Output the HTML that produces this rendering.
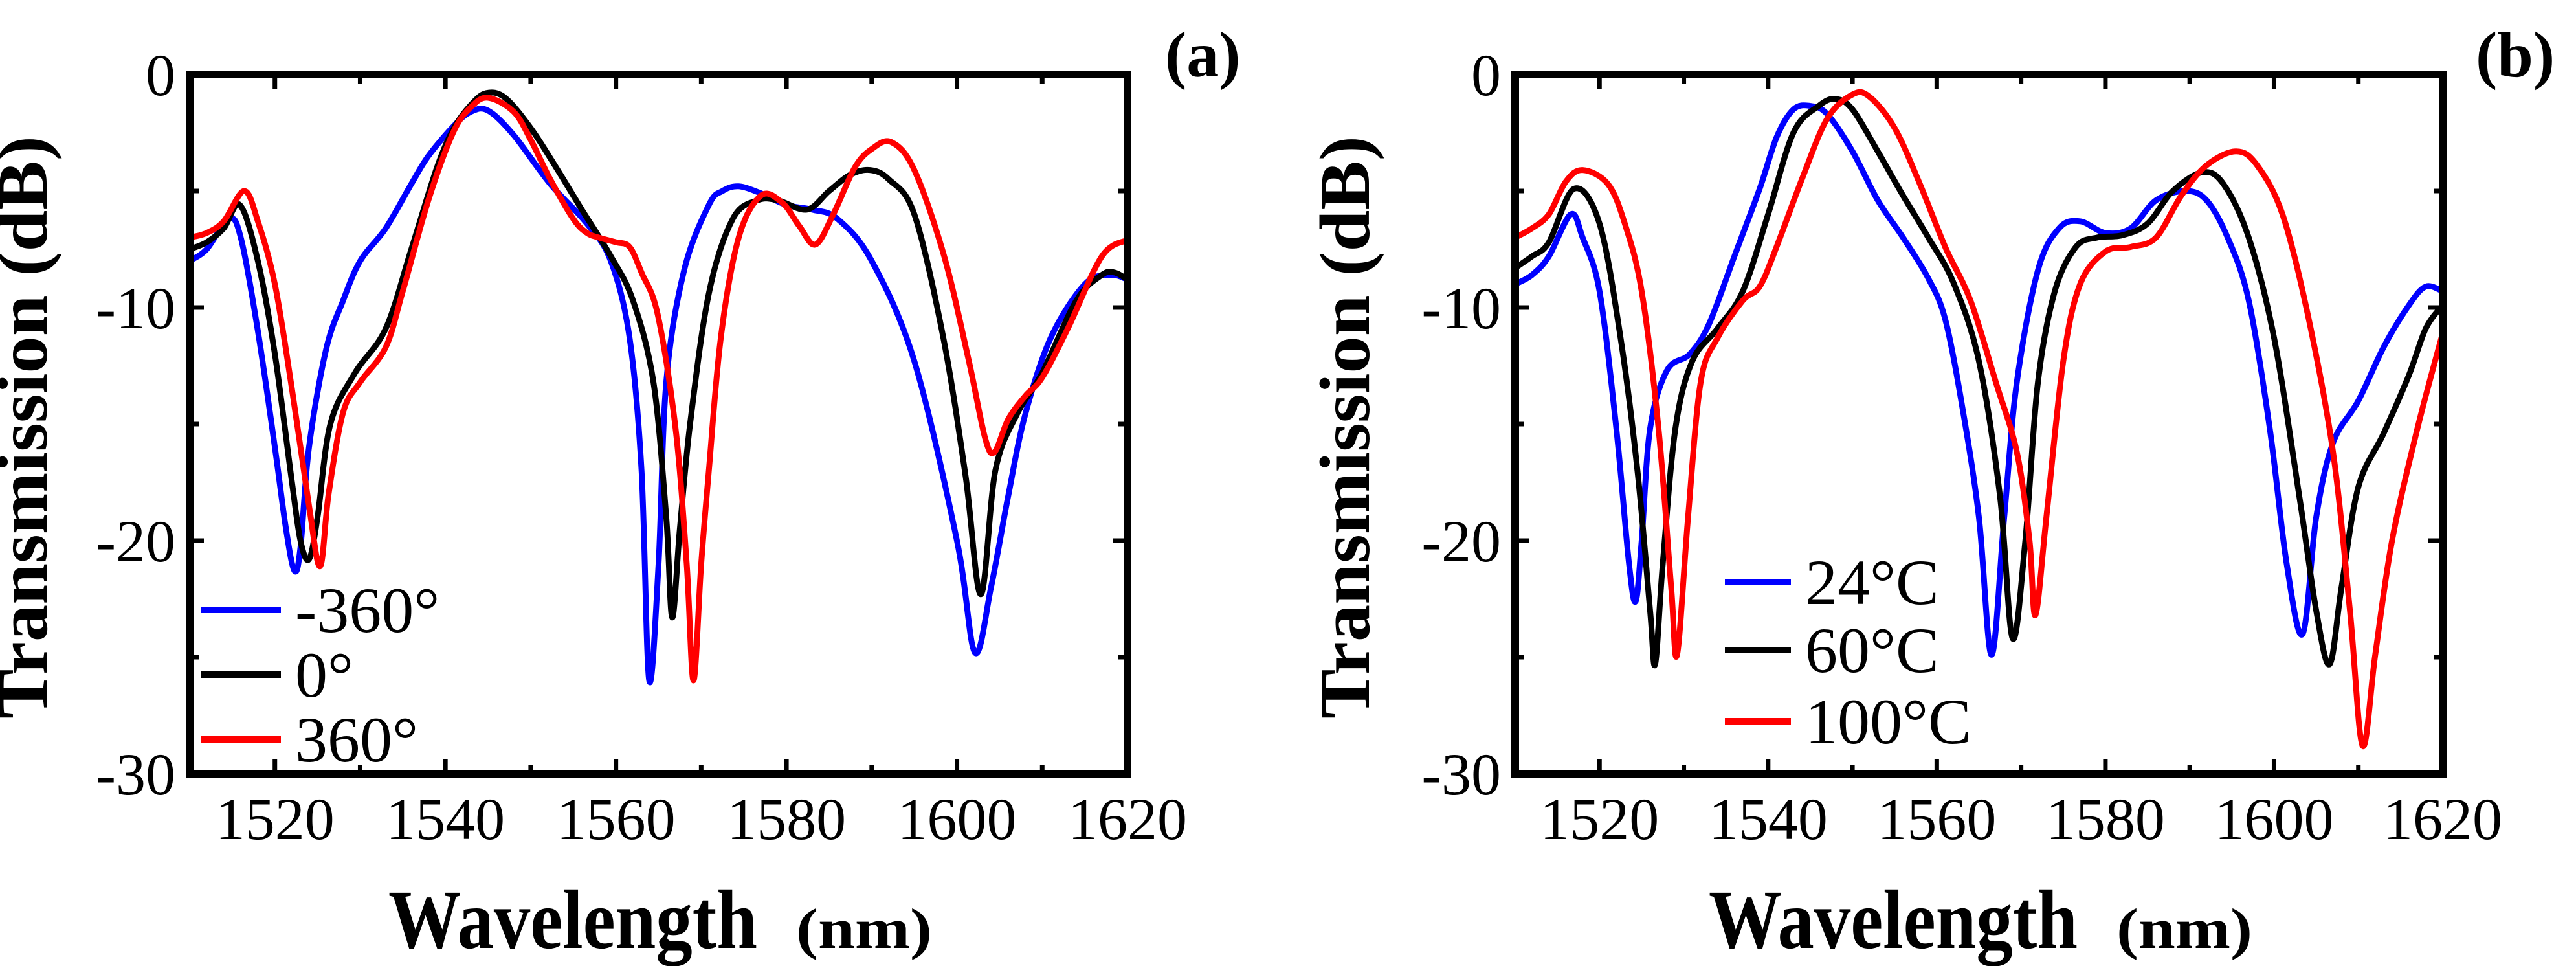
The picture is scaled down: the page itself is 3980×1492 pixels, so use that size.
<!DOCTYPE html>
<html><head><meta charset="utf-8"><style>
html,body{margin:0;padding:0;background:#fff;}
svg{display:block;}
text{font-family:"Liberation Serif",serif;fill:#000;}
</style></head><body>
<svg id="fig" width="3980" height="1492" viewBox="0 0 3980 1492" xmlns="http://www.w3.org/2000/svg"></svg>
<script>
// ---- Panel (a) data: wavelength (nm) / transmission (dB) ----
const aBlueX=[1510,1512,1514.6,1516,1518,1520,1521.3,1522.3,1523,1524,1526,1528,1530,1533,1536,1538,1541,1543,1545,1548,1552.3,1556.6,1559.4,1561.6,1563,1563.9,1565,1565.9,1568,1570.9,1572.5,1574.4,1577,1580,1583,1586,1590,1595,1600,1602.1,1604,1606,1608,1611,1615,1618,1620];
const aBlueY=[-8,-7.5,-6.2,-7,-11,-16,-19.5,-21.3,-20.3,-16,-11.8,-9.7,-8,-6.6,-4.7,-3.5,-2.2,-1.6,-1.55,-2.6,-4.7,-6.4,-8,-11.3,-17,-26,-21,-13.2,-8.4,-5.6,-5,-4.8,-5.1,-5.6,-5.8,-6.2,-8,-12.3,-20,-24.8,-22,-18.1,-14.6,-11.3,-9,-8.6,-8.8];
const aBlackX=[1510,1512,1514,1515.9,1518,1520,1522,1523,1524,1525,1526.5,1529.4,1533,1536,1539,1541,1543,1544.8,1547,1550,1553,1556,1559.4,1562,1564.4,1565.9,1566.6,1567.5,1568.7,1570.9,1573.7,1576.6,1579,1582.4,1585,1587.5,1589.8,1592,1595,1598.4,1601,1602.8,1604.5,1607,1610,1614,1617,1618.5,1620];
const aBlackY=[-7.5,-7.2,-6.6,-5.6,-8,-12,-17.5,-20,-20.8,-19,-15,-12.8,-10.9,-7.5,-4,-2.3,-1.3,-0.8,-1,-2.3,-4,-5.8,-7.8,-9.7,-13.2,-19,-23.3,-19.5,-15,-9.4,-6.2,-5.4,-5.4,-5.8,-5,-4.3,-4.1,-4.5,-6,-11.3,-17.2,-22.3,-17,-14.6,-12.8,-9.7,-8.6,-8.5,-8.8];
const aRedX=[1510,1512,1514,1516.4,1518,1520,1522,1524,1525.3,1526.3,1528,1530,1533,1535,1538,1540.9,1543,1545,1548,1550,1552.3,1555,1556.6,1558,1560,1561.6,1563,1564.9,1567,1568.3,1569.1,1570,1570.9,1572.3,1574.4,1577,1579.5,1581.5,1583.4,1585.5,1588,1590,1592.3,1595,1598.5,1601.4,1603.3,1604.4,1606,1608,1610,1613,1617,1620];
const aRedY=[-7,-6.8,-6.3,-5,-6.3,-9,-13.5,-18.5,-21.1,-18,-14.5,-13.2,-11.7,-9.3,-5.4,-2.5,-1.4,-1,-1.6,-2.8,-4.5,-6.2,-6.8,-7,-7.2,-7.4,-8.5,-10.3,-15.2,-21,-26,-21,-17,-11.3,-7,-5.2,-5.5,-6.5,-7.3,-6,-4,-3.2,-2.9,-4.1,-7.8,-12.3,-15.6,-16.2,-14.8,-13.8,-13,-10.9,-7.8,-7.1];
// ---- Panel (b) data ----
const bBlueX=[1510,1512,1514,1516.6,1518,1520,1522,1523.5,1524.3,1525,1526,1528,1530.7,1533,1536,1539,1541,1543,1545,1547,1550,1553,1556,1559,1561,1563,1565,1566.5,1568,1569.5,1572,1574.5,1577,1580,1583,1586,1589.5,1592,1594.5,1597,1599.5,1601.5,1603.4,1605,1607,1610,1613,1616,1618,1620];
const bBlueY=[-9,-8.6,-7.8,-6,-7,-9.3,-15.2,-21,-22.6,-20,-15.2,-12.7,-12,-10.7,-7.8,-4.9,-2.7,-1.5,-1.35,-1.7,-3.3,-5.4,-7,-8.75,-10.5,-14.2,-19,-24.9,-19,-13.2,-8.4,-6.6,-6.3,-6.8,-6.6,-5.4,-5,-5.4,-7,-9.7,-15.2,-21,-24,-19,-15.8,-14,-11.7,-9.9,-9.1,-9.3];
const bBlackX=[1510,1512,1514,1517,1520,1522.5,1524.5,1526,1526.6,1527.5,1529,1531,1534,1537,1540,1543,1546,1548,1550,1553,1556,1559,1562,1565,1567.5,1569,1570.5,1572,1574,1576.5,1579,1582,1585,1588,1591.5,1594,1597,1600,1603,1605,1606.6,1608,1610,1613,1616,1618,1620];
const bBlackY=[-8.3,-7.8,-7.2,-4.9,-6.4,-11.3,-17,-23,-25.3,-21,-15.2,-12.3,-10.9,-9.3,-6,-2.5,-1.35,-1.05,-1.5,-3.3,-5.2,-7,-8.95,-12.3,-18.1,-24.2,-20,-13.2,-9.3,-7.4,-7,-6.9,-6.4,-5,-4.2,-4.7,-7,-11.3,-18.1,-23,-25.3,-22,-17.7,-15.4,-12.9,-10.9,-9.9];
const bRedX=[1510,1512,1514,1516,1518,1521,1523,1525,1527,1528.5,1529.2,1530.5,1532,1534,1537,1539,1541,1544,1547,1550,1552,1555,1558,1561,1564,1567,1569.5,1571,1571.7,1573,1575,1577,1580,1583,1586,1589,1592,1595.5,1598,1601,1604,1607,1609,1610.5,1612,1614,1617,1620];
const bRedY=[-7,-6.6,-6,-4.6,-4.1,-4.7,-6.4,-9.3,-15.2,-22,-24.9,-19,-13.2,-11.3,-9.7,-9.1,-7.4,-4.5,-1.9,-0.86,-0.95,-2.3,-4.7,-7.4,-9.7,-13.2,-16.2,-20,-23.2,-19,-12.3,-9,-7.6,-7.4,-7,-5.2,-3.9,-3.3,-3.9,-6,-10.3,-16.2,-23,-28.8,-24.9,-20,-15.2,-11.1];
const xTicks=[1520,1540,1560,1580,1600,1620];
const yTicks=[0,-10,-20,-30];
const legendA=["-360°","0°","360°"];
const legendB=["24°C","60°C","100°C"];

const NS="http://www.w3.org/2000/svg";
const svg=document.getElementById('fig');
function el(tag,attrs,parent,txt){const e=document.createElementNS(NS,tag);for(const k in attrs)e.setAttribute(k,attrs[k]);if(txt!==undefined)e.textContent=txt;(parent||svg).appendChild(e);return e;}
function smoothPath(pts){let d='M'+pts[0][0].toFixed(1)+','+pts[0][1].toFixed(1);for(let i=0;i<pts.length-1;i++){const p0=pts[Math.max(0,i-1)],p1=pts[i],p2=pts[i+1],p3=pts[Math.min(pts.length-1,i+2)];const c1=[p1[0]+(p2[0]-p0[0])/6,p1[1]+(p2[1]-p0[1])/6],c2=[p2[0]-(p3[0]-p1[0])/6,p2[1]-(p3[1]-p1[1])/6];d+=' C'+c1[0].toFixed(1)+','+c1[1].toFixed(1)+' '+c2[0].toFixed(1)+','+c2[1].toFixed(1)+' '+p2[0].toFixed(1)+','+p2[1].toFixed(1);}return d;}

function panel(cfg){
  const g=el('g',{});
  
  
  const L=cfg.left,R=cfg.right,T=115,B=1195;
  const sx=v=>L+(v-1510)/(1620-1510)*(R-L);
  const sy=v=>T+(0-v)/30*(B-T);
  const series=el('g',{},g);
  
  
  cfg.series.forEach(s=>{
    const pts=s.x.map((x,i)=>[sx(x),sy(s.y[i])]);
    const p=el('path',{d:smoothPath(pts),fill:'none',stroke:s.color,'stroke-width':9,'stroke-linejoin':'round'},series);
    
    
  });
  // ticks
  for(let v=1520;v<=1610;v+=10){
    const len=(v%20===0)?22:14;
    el('line',{x1:sx(v),x2:sx(v),y1:B,y2:B-len,stroke:'#000','stroke-width':7},g);
    el('line',{x1:sx(v),x2:sx(v),y1:T,y2:T+len,stroke:'#000','stroke-width':7},g);
  }
  for(let v=-5;v>-30;v-=5){
    const len=(v%10===0)?22:14;
    el('line',{x1:L,x2:L+len,y1:sy(v),y2:sy(v),stroke:'#000','stroke-width':7},g);
    el('line',{x1:R,x2:R-len,y1:sy(v),y2:sy(v),stroke:'#000','stroke-width':7},g);
  }
  const frame=el('rect',{x:L,y:T,width:R-L,height:B-T,fill:'none',stroke:'#000','stroke-width':12},g);
  
  
  xTicks.forEach(v=>{
    const t=el('text',{x:sx(v),y:1296,'font-size':92,'text-anchor':'middle'},g,String(v));
    
    
  });
  yTicks.forEach(v=>{
    const t=el('text',{x:L-22,y:sy(v)+32,'font-size':92,'text-anchor':'end'},g,String(v));
    
    
  });
  const yt=el('text',{x:0,y:0,'font-size':110,'font-weight':'bold','text-anchor':'middle',transform:`translate(${cfg.ytx},660) rotate(-90)`,textLength:900,lengthAdjust:'spacingAndGlyphs'},g,'Transmission (dB)');
  
  
  const xt=el('text',{x:cfg.xtx,y:1464,'font-size':130,'font-weight':'bold',textLength:570,lengthAdjust:'spacingAndGlyphs'},g,'Wavelength');
  
  
  const xu=el('text',{x:cfg.xtx+630,y:1464,'font-size':88,'font-weight':'bold',textLength:210,lengthAdjust:'spacingAndGlyphs'},g,'(nm)');
  
  
  const pl=el('text',{x:cfg.plx,y:118,'font-size':100,'font-weight':'bold'},g,cfg.label);
  
  
  cfg.legend.forEach((lab,i)=>{
    const lg=el('g',{},g);
    
    
    const y=cfg.legY[i];
    el('line',{x1:cfg.legX,x2:cfg.legX+cfg.legLen,y1:y,y2:y,stroke:cfg.series[i].color,'stroke-width':10},lg);
    el('text',{x:cfg.legX+cfg.legLen+22,y:y+34,'font-size':100},lg,lab);
  });
}
panel({name:'panel-a',left:293,right:1742,ytx:72,xtx:600,plx:1800,label:'(a)',
  series:[{x:aBlueX,y:aBlueY,color:'#0000ff',name:'series-minus360'},{x:aBlackX,y:aBlackY,color:'#000000',name:'series-0'},{x:aRedX,y:aRedY,color:'#ff0000',name:'series-360'}],
  legend:legendA,legX:311,legLen:123,legY:[942,1042,1142]});
panel({name:'panel-b',left:2341,right:3774,ytx:2115,xtx:2640,plx:3825,label:'(b)',
  series:[{x:bBlueX,y:bBlueY,color:'#0000ff',name:'series-24c'},{x:bBlackX,y:bBlackY,color:'#000000',name:'series-60c'},{x:bRedX,y:bRedY,color:'#ff0000',name:'series-100c'}],
  legend:legendB,legX:2665,legLen:102,legY:[899,1004,1114]});
</script>
</body></html>
